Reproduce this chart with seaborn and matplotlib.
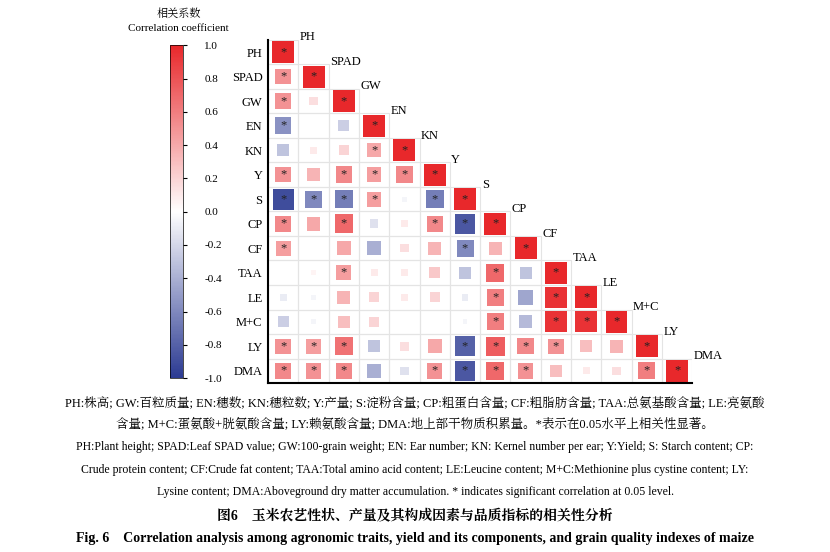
import numpy as np
import pandas as pd
import matplotlib
matplotlib.use("Agg")
import matplotlib.pyplot as plt
import seaborn as sns
from matplotlib.colors import LinearSegmentedColormap, Normalize

traits = ["PH", "SPAD", "GW", "EN", "KN", "Y", "S", "CP", "CF", "TAA", "LE", "M+C", "LY", "DMA"]

# lower triangle, row by row
corr_rows = [
    [1],
    [0.5, 1],
    [0.5, 0.15, 1],
    [-0.55, 0, -0.25, 1],
    [-0.3, 0.1, 0.2, 0.4, 1],
    [0.5, 0.35, 0.55, 0.45, 0.55, 1],
    [-0.9, -0.6, -0.65, 0.45, -0.05, -0.65, 1],
    [0.55, 0.4, 0.7, -0.15, 0.1, 0.55, -0.85, 1],
    [0.45, 0, 0.4, -0.4, 0.15, 0.35, -0.6, 0.35, 1],
    [0, 0.05, 0.45, 0.1, 0.1, 0.25, -0.3, 0.7, -0.3, 1],
    [-0.1, -0.05, 0.35, 0.2, 0.1, 0.2, -0.1, 0.6, -0.45, 0.95, 1],
    [-0.25, -0.05, 0.3, 0.2, 0, 0, -0.05, 0.6, -0.35, 0.95, 0.95, 1],
    [0.5, 0.45, 0.65, -0.3, 0.15, 0.4, -0.8, 0.75, 0.55, 0.5, 0.3, 0.35, 1],
    [0.55, 0.5, 0.55, -0.4, -0.15, 0.5, -0.85, 0.7, 0.5, 0.3, 0.1, 0.15, 0.6, 1],
]
sig_rows = [
    [1],
    [1, 1],
    [1, 0, 1],
    [1, 0, 0, 1],
    [0, 0, 0, 1, 1],
    [1, 0, 1, 1, 1, 1],
    [1, 1, 1, 1, 0, 1, 1],
    [1, 0, 1, 0, 0, 1, 1, 1],
    [1, 0, 0, 0, 0, 0, 1, 0, 1],
    [0, 0, 1, 0, 0, 0, 0, 1, 0, 1],
    [0, 0, 0, 0, 0, 0, 0, 1, 0, 1, 1],
    [0, 0, 0, 0, 0, 0, 0, 1, 0, 1, 1, 1],
    [1, 1, 1, 0, 0, 0, 1, 1, 1, 1, 0, 0, 1],
    [1, 1, 1, 0, 0, 1, 1, 1, 1, 0, 0, 0, 1, 1],
]

records = []
for i, row in enumerate(corr_rows):
    for j, r in enumerate(row):
        records.append({"x": j, "y": i, "r": r, "abs_r": abs(r), "sig": sig_rows[i][j]})
df = pd.DataFrame(records)

serif = ["Liberation Serif", "Noto Serif CJK SC", "Noto Sans CJK SC"]
plt.rcParams["font.family"] = serif

cmap = LinearSegmentedColormap.from_list("bwr2", ["#2b3a92", "#ffffff", "#e8282b"])
norm = Normalize(-1, 1)

fig = plt.figure(figsize=(8.3, 5.52), dpi=100)
ax = fig.add_axes([0.323, 0.306, 0.511, 0.622])

n = len(traits)
for i in range(n):
    for j in range(i + 1):
        ax.add_patch(plt.Rectangle((j - 0.5, i - 0.5), 1, 1, fill=False,
                                   edgecolor="#e4e4e4", lw=0.8))

sns.scatterplot(data=df, x="x", y="y", hue="r", size="abs_r", palette=cmap,
                hue_norm=norm, sizes=(0, 250), size_norm=(0, 1), marker="s",
                edgecolor=None, linewidth=0, legend=False, ax=ax)

for _, rw in df[df["sig"] == 1].iterrows():
    ax.text(rw["x"], rw["y"], "*", ha="center", va="center", fontsize=9, color="#222222")

for i, t in enumerate(traits):
    ax.text(i + 0.55, i - 0.35, t, ha="left", va="bottom", fontsize=9)

ax.set_xlim(-0.5, n - 0.5)
ax.set_ylim(n - 0.5, -0.5)
ax.set_xticks([])
ax.set_yticks(range(n))
ax.set_yticklabels(traits, fontsize=9)
ax.tick_params(axis="y", length=0, pad=4)
ax.set_xlabel("")
ax.set_ylabel("")
for s in ["top", "right"]:
    ax.spines[s].set_visible(False)
ax.spines["left"].set_linewidth(1.5)
ax.spines["bottom"].set_linewidth(1.5)

tick_vals = np.round(np.arange(-1, 1.01, 0.2), 1)
cax = fig.add_axes([0.205, 0.315, 0.016, 0.603])
sm = plt.cm.ScalarMappable(norm=norm, cmap=cmap)
cb = fig.colorbar(sm, cax=cax, ticks=tick_vals)
cb.ax.yaxis.set_ticks_position("right")
cb.ax.set_yticklabels([f"{abs(v):.1f}" if v == 0 else f"{v:.1f}" for v in tick_vals], fontsize=8)
cb.ax.tick_params(length=3, pad=12)
cb.outline.set_linewidth(0.5)
fig.text(0.215, 0.975, "相关系数", ha="center", va="center", fontsize=8)
fig.text(0.215, 0.948, "Correlation coefficient", ha="center", va="center", fontsize=8)

cap = [
    (0.270, 0.5, "PH:株高; GW:百粒质量; EN:穗数; KN:穗粒数; Y:产量; S:淀粉含量; CP:粗蛋白含量; CF:粗脂肪含量; TAA:总氨基酸含量; LE:亮氨酸", 9, "normal"),
    (0.233, 0.5, "含量; M+C:蛋氨酸+胱氨酸含量; LY:赖氨酸含量; DMA:地上部干物质积累量。*表示在0.05水平上相关性显著。", 9, "normal"),
    (0.190, 0.5, "PH:Plant height; SPAD:Leaf SPAD value; GW:100-grain weight; EN: Ear number; KN: Kernel number per ear; Y:Yield; S: Starch content; CP:", 8.5, "normal"),
    (0.149, 0.5, "Crude protein content; CF:Crude fat content; TAA:Total amino acid content; LE:Leucine content; M+C:Methionine plus cystine content; LY:", 8.5, "normal"),
    (0.109, 0.5, "Lysine content; DMA:Aboveground dry matter accumulation. * indicates significant correlation at 0.05 level.", 8.5, "normal"),
    (0.067, 0.5, "图6    玉米农艺性状、产量及其构成因素与品质指标的相关性分析", 10, "bold"),
    (0.025, 0.5, "Fig. 6    Correlation analysis among agronomic traits, yield and its components, and grain quality indexes of maize", 10, "bold"),
]
for y, x, t, fs, fw in cap:
    fig.text(x, y, t, ha="center", va="center", fontsize=fs, fontweight=fw)

fig.savefig("out.png", dpi=100)
